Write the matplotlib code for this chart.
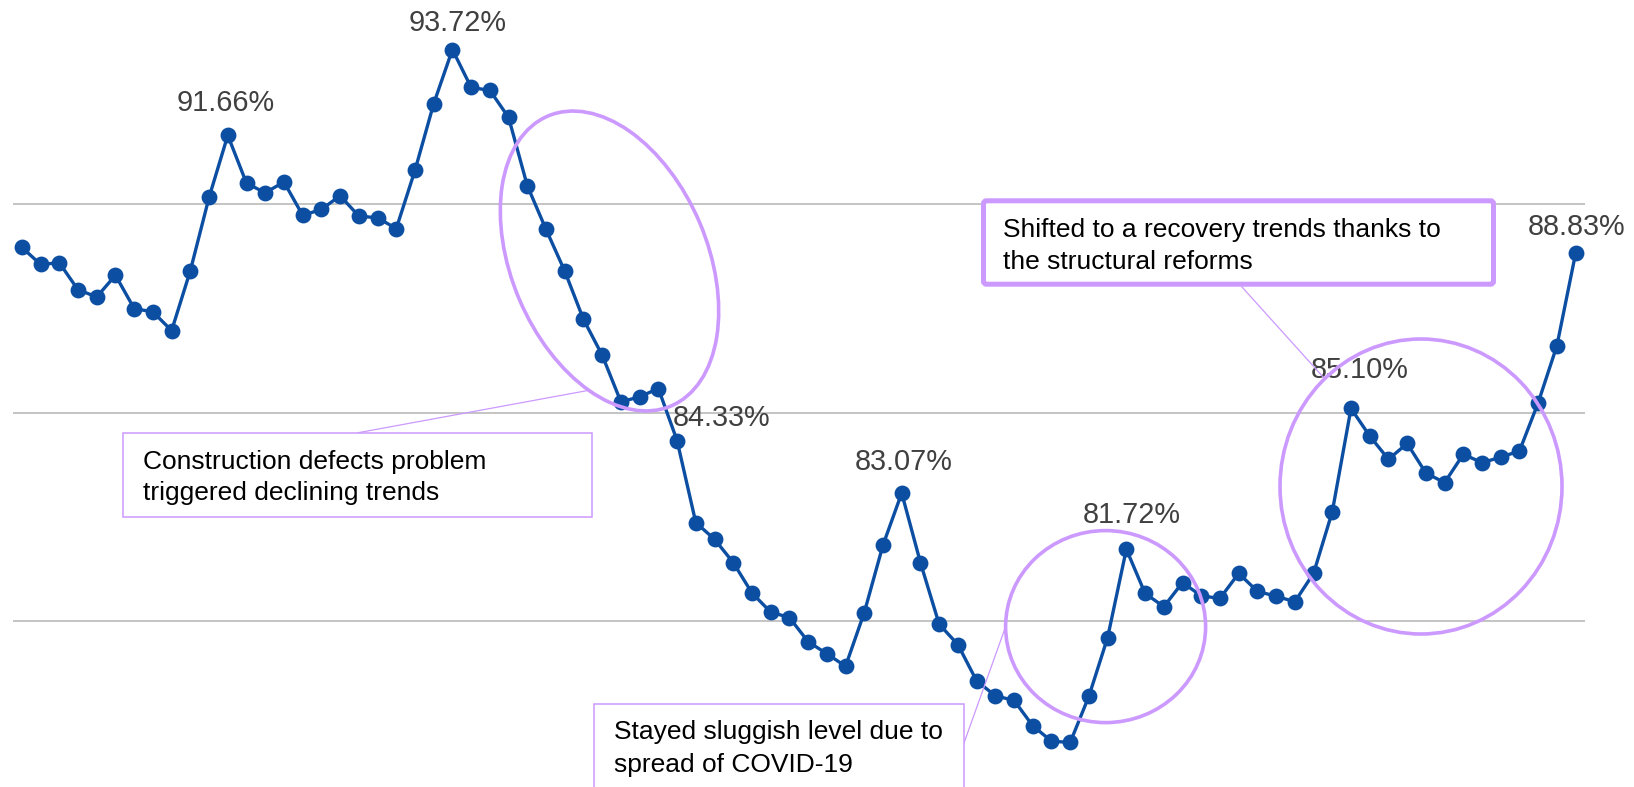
import matplotlib
matplotlib.use("Agg")
import matplotlib.pyplot as plt
from matplotlib.patches import Ellipse, Rectangle, FancyBboxPatch
from matplotlib.lines import Line2D
from matplotlib.transforms import Affine2D
import numpy as np

plt.rcParams['font.family'] = ['Liberation Sans', 'DejaVu Sans']

# Monthly rate (%) series
rate = [
    88.97, 88.56, 88.60, 87.95, 87.78, 88.30, 87.50, 87.42, 86.97, 88.41,
    90.17, 91.66, 90.51, 90.28, 90.54, 89.74, 89.88, 90.21, 89.72, 89.68,
    89.42, 90.82, 92.42, 93.72, 92.81, 92.74, 92.09, 90.45, 89.40, 88.40,
    87.24, 86.38, 85.26, 85.38, 85.58, 84.33, 82.36, 81.96, 81.40, 80.67,
    80.21, 80.08, 79.50, 79.21, 78.91, 80.20, 81.82, 83.07, 81.40, 79.92,
    79.43, 78.56, 78.20, 78.09, 77.48, 77.11, 77.08, 78.19, 79.60, 81.72,
    80.66, 80.34, 80.92, 80.60, 80.54, 81.14, 80.71, 80.59, 80.46, 81.14,
    82.62, 85.10, 84.44, 83.88, 84.26, 83.55, 83.32, 84.00, 83.80, 83.93,
    84.08, 85.24, 86.61, 88.83,
]

# Labelled points: index -> (dx, dy in pixels, horizontal alignment)
labelled = [11, 23, 35, 47, 59, 71, 83]
label_offsets = [(-2, 24, 'center'), (5, 19, 'center'), (-4, 15, 'left'),
                 (2, 23, 'center'), (5, 26, 'center'), (9, 30, 'center'),
                 (1, 18, 'center')]

grid_levels = [80, 85, 90]

W, H = 1634, 787
fig = plt.figure(figsize=(W / 100, H / 100), dpi=100)
ax = fig.add_axes([12.5 / W, 0, (1585 - 12.5) / W, 1])

x = np.arange(len(rate))
ax.plot(x, rate, color='#0b4ea2', lw=2.4, marker='o', ms=10.4,
        mfc='#0b4ea2', mec='#0b4ea2', zorder=3, clip_on=False)

ax.set_xlim(-0.5, len(rate) - 0.5)
ax.set_ylim(76.01, 94.91)
ax.set_yticks(grid_levels)
ax.set_xticks([])
ax.yaxis.grid(True, color='#bfbfbf', lw=1.3)
ax.set_axisbelow(True)
ax.tick_params(left=False, labelleft=False)
for s in ax.spines.values():
    s.set_visible(False)

for i, (dx, dy, ha) in zip(labelled, label_offsets):
    ax.annotate(f"{rate[i]:.2f}%", xy=(i, rate[i]), xytext=(dx, dy),
                textcoords='offset pixels', ha=ha, va='baseline',
                fontsize=20.8, color='#404040', zorder=4)

# Callout shapes, positioned in image pixels (origin top-left)
pix = Affine2D().scale(1 / W, -1 / H).translate(0, 1) + fig.transFigure
purple = '#cc99ff'

fig.add_artist(Ellipse((609.5, 261), 315, 196, angle=67, transform=pix,
                       fill=False, ec=purple, lw=2.6, zorder=5))
fig.add_artist(Ellipse((1105.6, 626.6), 200, 192, transform=pix,
                       fill=False, ec=purple, lw=2.6, zorder=5))
fig.add_artist(Ellipse((1421, 486.5), 282, 295, transform=pix,
                       fill=False, ec=purple, lw=2.6, zorder=5))

# connectors
for (x0, y0), (x1, y1) in [((358.3, 432.7), (586.7, 390.7)),
                           ((1242, 287), (1324, 378)),
                           ((964, 743), (1005.5, 627))]:
    fig.add_artist(Line2D([x0, x1], [y0, y1], transform=pix,
                          color=purple, lw=0.9, zorder=5))

# text boxes
fig.add_artist(Rectangle((123.3, 432.7), 591.7 - 123.3, 516.7 - 432.7,
                         transform=pix, fill=True, fc='white', ec=purple,
                         lw=1.1, zorder=6))
fig.add_artist(FancyBboxPatch((983.5, 200.8), 1493.5 - 983.5, 284.2 - 200.8,
                              boxstyle='round,pad=0,rounding_size=3',
                              transform=pix, fc='white', ec=purple,
                              lw=3.6, zorder=6))
fig.add_artist(Rectangle((594, 704), 964 - 594, 120,
                         transform=pix, fill=True, fc='white', ec=purple,
                         lw=1.1, zorder=6))

box_text = [
    (143.3, [469.3, 500.0], ["Construction defects problem",
                              "triggered declining trends"]),
    (1003.3, [237.0, 269.3], ["Shifted to a recovery trends thanks to",
                               "the structural reforms"]),
    (614.3, [739.3, 771.7], ["Stayed sluggish level due to",
                              "spread of COVID-19"]),
]
for tx, baselines, lines in box_text:
    for by, line in zip(baselines, lines):
        fig.text(tx, by, line, transform=pix, ha='left', va='baseline',
                 fontsize=19, color='#000000', zorder=7)

fig.savefig('out.png', dpi=100, facecolor='white')
